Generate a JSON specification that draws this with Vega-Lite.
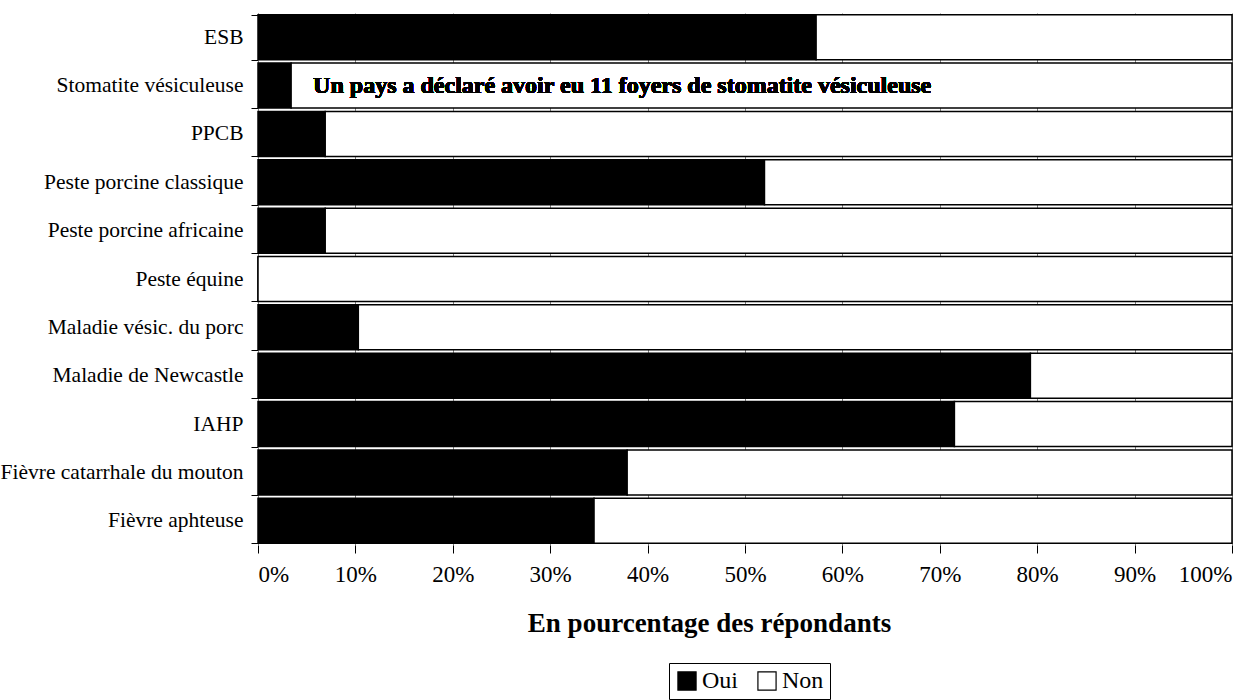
{
  "$schema": "https://vega.github.io/schema/vega-lite/v6.json",
  "width": 974,
  "height": 532,
  "autosize": {"type": "none"},
  "padding": {"left": 258, "top": 13, "right": 27, "bottom": 155},
  "background": "white",
  "config": {
    "view": {"stroke": null},
    "font": "Liberation Serif",
    "axis": {"labelFont": "Liberation Serif", "titleFont": "Liberation Serif", "labelColor": "black", "titleColor": "black"},
    "legend": {"labelFont": "Liberation Serif"}
  },
  "data": {
    "values": [
      {"maladie": "ESB", "reponse": "Oui", "ordre": 0, "pct": 57.3},
      {"maladie": "ESB", "reponse": "Non", "ordre": 1, "pct": 42.7},
      {"maladie": "Stomatite vésiculeuse", "reponse": "Oui", "ordre": 0, "pct": 3.4},
      {"maladie": "Stomatite vésiculeuse", "reponse": "Non", "ordre": 1, "pct": 96.6},
      {"maladie": "PPCB", "reponse": "Oui", "ordre": 0, "pct": 6.9},
      {"maladie": "PPCB", "reponse": "Non", "ordre": 1, "pct": 93.1},
      {"maladie": "Peste porcine classique", "reponse": "Oui", "ordre": 0, "pct": 52.0},
      {"maladie": "Peste porcine classique", "reponse": "Non", "ordre": 1, "pct": 48.0},
      {"maladie": "Peste porcine africaine", "reponse": "Oui", "ordre": 0, "pct": 6.9},
      {"maladie": "Peste porcine africaine", "reponse": "Non", "ordre": 1, "pct": 93.1},
      {"maladie": "Peste équine", "reponse": "Oui", "ordre": 0, "pct": 0},
      {"maladie": "Peste équine", "reponse": "Non", "ordre": 1, "pct": 100},
      {"maladie": "Maladie vésic. du porc", "reponse": "Oui", "ordre": 0, "pct": 10.3},
      {"maladie": "Maladie vésic. du porc", "reponse": "Non", "ordre": 1, "pct": 89.7},
      {"maladie": "Maladie de Newcastle", "reponse": "Oui", "ordre": 0, "pct": 79.3},
      {"maladie": "Maladie de Newcastle", "reponse": "Non", "ordre": 1, "pct": 20.7},
      {"maladie": "IAHP", "reponse": "Oui", "ordre": 0, "pct": 71.5},
      {"maladie": "IAHP", "reponse": "Non", "ordre": 1, "pct": 28.5},
      {"maladie": "Fièvre catarrhale du mouton", "reponse": "Oui", "ordre": 0, "pct": 37.9},
      {"maladie": "Fièvre catarrhale du mouton", "reponse": "Non", "ordre": 1, "pct": 62.1},
      {"maladie": "Fièvre aphteuse", "reponse": "Oui", "ordre": 0, "pct": 34.5},
      {"maladie": "Fièvre aphteuse", "reponse": "Non", "ordre": 1, "pct": 65.5}
    ]
  },
  "layer": [
    {
      "mark": {"type": "bar", "stroke": "black", "strokeWidth": 1.5},
      "encoding": {
        "y": {
          "field": "maladie", "type": "nominal", "sort": null,
          "scale": {"paddingInner": 0.07, "paddingOuter": 0.035},
          "axis": {
            "title": null, "labelFontSize": 21.5, "labelPadding": 8, "tickBand": "extent",
            "tickColor": "black", "tickSize": 7, "domainColor": "#808080", "labelLimit": 300
          }
        },
        "x": {
          "field": "pct", "type": "quantitative", "stack": "zero",
          "scale": {"domain": [0, 100]},
          "axis": {
            "title": "En pourcentage des répondants", "titleFontSize": 27, "titleFontWeight": "bold",
            "titlePadding": 24, "titleX": 451, "titleAlign": "center", "values": [0,10,20,30,40,50,60,70,80,90,100],
            "labelExpr": "datum.value + '%'", "labelFontSize": 23, "labelPadding": 10,
            "tickColor": "black", "tickSize": 8, "domain": false,
            "grid": true, "gridColor": "#808080", "gridWidth": 1
          }
        },
        "color": {
          "field": "reponse", "type": "nominal",
          "scale": {"domain": ["Oui", "Non"], "range": ["black", "white"]},
          "legend": {
            "title": null, "orient": "none", "legendX": 411, "legendY": 650,
            "direction": "horizontal", "symbolType": "square", "symbolSize": 330,
            "symbolStrokeColor": "black", "symbolStrokeWidth": 1.2, "labelFontSize": 24,
            "labelColor": "black", "columnPadding": 17, "labelOffset": 3,
            "labelExpr": "datum.value == 'Non' ? 'Non\u2003\u2003' : datum.value",
            "strokeColor": "black", "fillColor": "white", "padding": 6
          }
        },
        "order": {"field": "ordre", "type": "quantitative"}
      }
    },
    {
      "mark": {"type": "text", "align": "left", "baseline": "middle", "dx": 22, "fontSize": 24, "fontWeight": "bold", "font": "Liberation Serif", "fill": "black"},
      "encoding": {
        "y": {"datum": "Stomatite vésiculeuse", "type": "nominal"},
        "x": {"datum": 3.4, "type": "quantitative"},
        "text": {"value": "Un pays a déclaré avoir eu 11 foyers de stomatite vésiculeuse"}
      }
    }
  ]
}
